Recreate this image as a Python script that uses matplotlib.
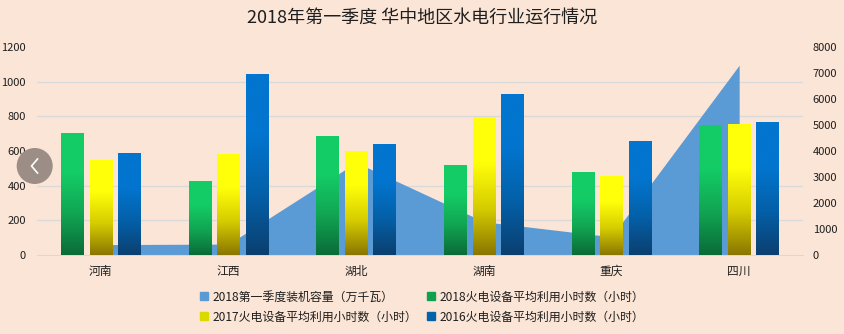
import numpy as np
import matplotlib
matplotlib.use("Agg")
import matplotlib.pyplot as plt
from matplotlib.colors import LinearSegmentedColormap
from matplotlib.patches import Patch, Ellipse
from matplotlib.lines import Line2D

plt.rcParams["font.family"] = ["Noto Sans CJK SC", "DejaVu Sans"]

provinces = ["河南", "江西", "湖北", "湖南", "重庆", "四川"]
capacity_2018q1 = [400, 420, 3560, 1280, 700, 7300]      # 万千瓦, right axis
hours_2018 = [705, 428, 688, 520, 480, 750]
hours_2017 = [548, 580, 600, 798, 456, 755]
hours_2016 = [588, 1045, 640, 930, 660, 767]

labels = [
    "2018第一季度装机容量（万千瓦）",
    "2018火电设备平均利用小时数（小时）",
    "2017火电设备平均利用小时数（小时）",
    "2016火电设备平均利用小时数（小时）",
]

BG = "#FBE5D6"
AREA = "#5B9BD5"
GRID = "#D9D9D9"
TXT = "#1E1E1E"

W, H = 845, 334
fig = plt.figure(figsize=(W / 100, H / 100), dpi=100, facecolor=BG)
ax = fig.add_axes([37 / W, 1 - 255 / H, 766 / W, 208 / H])
ax2 = ax.twinx()
ax.set_zorder(ax2.get_zorder() + 1)
ax.patch.set_visible(False)
ax2.patch.set_visible(False)

x = np.arange(len(provinces))

# area on the right axis, behind the columns
ax2.fill_between(x, capacity_2018q1, color=AREA, lw=0, zorder=1)
ax2.set_ylim(0, 8000)
ax2.set_yticks(np.arange(0, 8001, 1000))
ax2.set_yticks(np.linspace(0, 8000, 7), minor=True)
ax2.grid(which="minor", axis="y", color=GRID, lw=0.9, zorder=0)
ax2.set_axisbelow(True)
ax2.tick_params(axis="y", which="both", length=0, labelsize=8, colors=TXT, pad=7)


def gradient_bars(ax, xs, hs, width, bottom_c, mid_c, top_c):
    bars = ax.bar(xs, hs, width, color="none", edgecolor="none", zorder=3)
    cmap = LinearSegmentedColormap.from_list("g", [bottom_c, mid_c, top_c, top_c])
    grad = np.linspace(0, 1, 256).reshape(-1, 1)
    for b in bars:
        x0, y0, w, h = b.get_x(), b.get_y(), b.get_width(), b.get_height()
        im = ax.imshow(grad, cmap=cmap, aspect="auto", origin="lower",
                       extent=[x0, x0 + w, y0, y0 + h], zorder=3)
        im.set_clip_path(b)
    return bars


bw = 0.176
off = 0.223
gradient_bars(ax, x - off, hours_2018, bw, "#0A6B38", "#11A552", "#14CC66")
gradient_bars(ax, x, hours_2017, bw, "#8A7600", "#D6CC00", "#FFFF0A")
gradient_bars(ax, x + off, hours_2016, bw, "#0B3F70", "#0460A8", "#0275CF")

ax.set_xlim(-0.5, len(provinces) - 0.5)
ax2.set_xlim(-0.5, len(provinces) - 0.5)
ax.set_ylim(0, 1200)
ax.set_yticks(np.arange(0, 1201, 200))
ax.set_xticks(x)
ax.set_xticklabels(provinces)
ax.tick_params(axis="x", length=0, labelsize=8.5, colors=TXT, pad=7)
ax.tick_params(axis="y", length=0, labelsize=8, colors=TXT, pad=8)

for a in (ax, ax2):
    for s in ("top", "left", "right"):
        a.spines[s].set_visible(False)
    a.spines["bottom"].set_color(GRID)
ax2.spines["bottom"].set_visible(False)

fig.text(0.5, 1 - 18 / H, "2018年第一季度 华中地区水电行业运行情况",
         ha="center", va="center", fontsize=13, color=TXT)

handles = [
    Patch(color=AREA),
    Patch(color="#DADA00"),
    Patch(color="#10A050"),
    Patch(color="#0462AA"),
]
order_labels = [labels[0], labels[2], labels[1], labels[3]]
fig.legend(handles, order_labels, ncol=2, loc="center",
           bbox_to_anchor=(422 / W, 1 - 307 / H), frameon=False,
           fontsize=8.6, handlelength=0.65, handleheight=0.65,
           handletextpad=0.4, columnspacing=0.8, labelspacing=0.6,
           labelcolor=TXT)

# slider overlay button on the left
fig.patches.append(Ellipse((34.7 / W, 1 - 166 / H), 36 / W, 36 / H,
                           transform=fig.transFigure, facecolor="#9C8E86",
                           edgecolor="none", zorder=10))
fig.lines.append(Line2D([37.5 / W, 31.5 / W, 37.5 / W],
                        [1 - 159 / H, 1 - 166 / H, 1 - 173 / H],
                        transform=fig.transFigure, color="white", lw=1.2,
                        zorder=11))

fig.savefig("out.png", dpi=100, facecolor=BG)
